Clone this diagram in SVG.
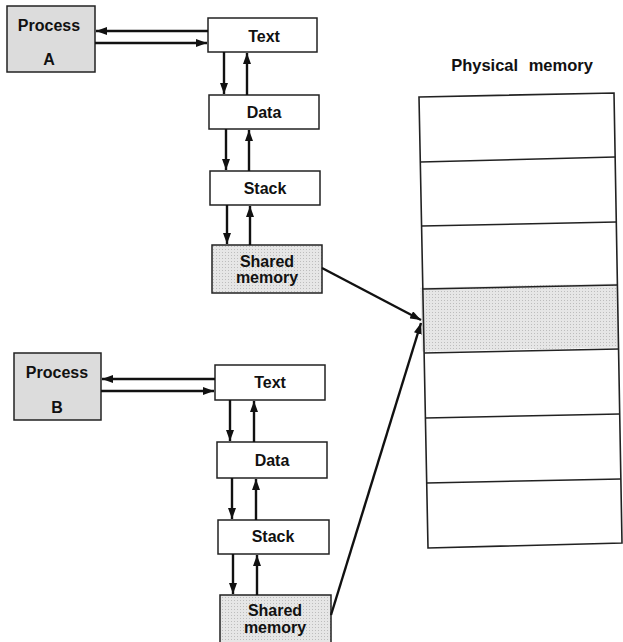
<svg xmlns="http://www.w3.org/2000/svg" width="623" height="642" viewBox="0 0 623 642">
<defs>
<marker id="ah" viewBox="0 0 11 8" refX="11" refY="4" markerWidth="11" markerHeight="8" markerUnits="userSpaceOnUse" orient="auto">
<path d="M0,0 L11,4 L0,8 Z" fill="#111"/>
</marker>
<pattern id="dots" width="3" height="3" patternUnits="userSpaceOnUse">
<rect width="3" height="3" fill="#e6e6e6"/>
<rect width="1" height="1" fill="#bdbdbd"/>
</pattern>
</defs>
<style>
.box{fill:#fff;stroke:#222;stroke-width:1.5}
.gray{fill:#dcdcdc;stroke:#222;stroke-width:1.5}
.shade{fill:url(#dots);stroke:#222;stroke-width:1.5}
.lbl{font-family:"Liberation Sans",Arial,sans-serif;font-weight:bold;font-size:16px;fill:#111;text-anchor:middle}
.con line{stroke:#111;stroke-width:2.4;marker-end:url(#ah)}
.mem{fill:none;stroke:#222;stroke-width:1.6}
</style>
<rect width="623" height="642" fill="#fff"/>

<g id="processA"><rect class="gray" x="7" y="6" width="88" height="66"/><text class="lbl" x="49" y="31">Process</text><text class="lbl" x="49" y="65">A</text></g>
<g id="textA"><rect class="box" x="208" y="18" width="109" height="34"/><text class="lbl" x="264" y="42">Text</text></g>
<g id="dataA"><rect class="box" x="209" y="95" width="110" height="34"/><text class="lbl" x="264" y="118">Data</text></g>
<g id="stackA"><rect class="box" x="210" y="171" width="110" height="34"/><text class="lbl" x="265" y="194">Stack</text></g>
<g id="sharedA"><rect class="shade" x="212" y="245" width="110" height="48"/><text class="lbl" x="267" y="267">Shared</text><text class="lbl" x="267" y="283">memory</text></g>

<g id="processB"><rect class="gray" x="14" y="353" width="87" height="67"/><text class="lbl" x="57" y="378">Process</text><text class="lbl" x="57" y="413">B</text></g>
<g id="textB"><rect class="box" x="215" y="365" width="110" height="35"/><text class="lbl" x="270" y="388">Text</text></g>
<g id="dataB"><rect class="box" x="217" y="442" width="110" height="36"/><text class="lbl" x="272" y="466">Data</text></g>
<g id="stackB"><rect class="box" x="218" y="520" width="111" height="34"/><text class="lbl" x="273" y="542">Stack</text></g>
<g id="sharedB"><rect class="shade" x="220" y="595" width="111" height="50"/><text class="lbl" x="275" y="616">Shared</text><text class="lbl" x="275" y="633">memory</text></g>

<g id="physical">
<text class="lbl" x="522" y="71" style="font-size:16.5px;word-spacing:6px">Physical memory</text>
<polygon points="420.6,287.5 617.4,283.5 618.6,347.5 421.8,351.5" fill="url(#dots)" stroke="none"/>
<polygon class="mem" points="419,97 614,93 622,543 428,548"/>
<line class="mem" x1="420.3" y1="162" x2="615.1" y2="157"/>
<line class="mem" x1="421.6" y1="226" x2="616.3" y2="222"/>
<line class="mem" x1="422.8" y1="289" x2="617.4" y2="285"/>
<line class="mem" x1="424.1" y1="353" x2="618.5" y2="349"/>
<line class="mem" x1="425.4" y1="418" x2="619.7" y2="414"/>
<line class="mem" x1="426.7" y1="483" x2="620.8" y2="479"/>
</g>

<g id="connectors" class="con">
<line x1="208" y1="31" x2="96" y2="31"/>
<line x1="95" y1="43" x2="207" y2="43"/>
<line x1="224" y1="52" x2="224" y2="94"/>
<line x1="247" y1="95" x2="247" y2="53"/>
<line x1="226" y1="129" x2="226" y2="170"/>
<line x1="249" y1="171" x2="249" y2="130"/>
<line x1="227" y1="205" x2="227" y2="244"/>
<line x1="250" y1="245" x2="250" y2="206"/>
<line x1="322" y1="268" x2="421" y2="320"/>

<line x1="215" y1="379" x2="102" y2="379"/>
<line x1="101" y1="391" x2="214" y2="391"/>
<line x1="230" y1="400" x2="230" y2="441"/>
<line x1="254" y1="442" x2="254" y2="401"/>
<line x1="232" y1="478" x2="232" y2="519"/>
<line x1="256" y1="520" x2="256" y2="479"/>
<line x1="233" y1="554" x2="233" y2="594"/>
<line x1="257" y1="595" x2="257" y2="555"/>
<line x1="331" y1="615" x2="421" y2="323"/>
</g>
</svg>
